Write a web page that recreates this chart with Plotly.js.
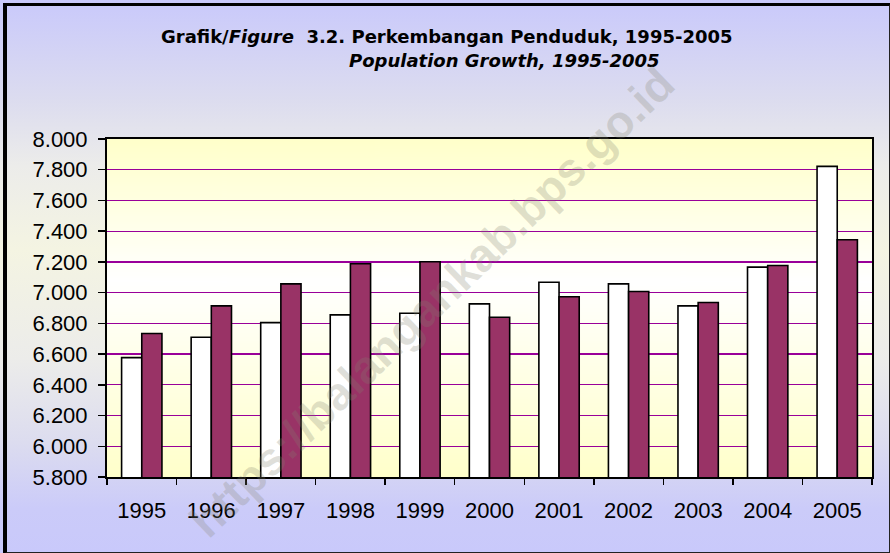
<!DOCTYPE html>
<html>
<head>
<meta charset="utf-8">
<script src="https://cdn.plot.ly/plotly-3.0.1.min.js"></script>
<style>
  html, body { margin: 0; padding: 0; }
  #wrap { position: relative; width: 890px; height: 553px; overflow: hidden;
    background: linear-gradient(to bottom, #c9c9fb 0%, #dcdcef 18%, #ececea 30%, #f4f4e2 45%, #ececea 65%, #dcdcef 80%, #cbcbf9 92%, #c9c9fb 100%); }
  #chart { position: absolute; left: 0; top: 0; width: 890px; height: 553px; }
  #frame { position: absolute; left: 3px; top: 3px; width: 882px; height: 546px;
    border-left: 4px solid #000; border-top: 3px solid #000; border-right: 2px solid #222; border-bottom: 2px solid #222;
    pointer-events: none; }
</style>
</head>
<body>
<div id="wrap"><div id="chart"></div><div id="frame"></div></div>
<script>
// ---- data ----
const years = ['1995','1996','1997','1998','1999','2000','2001','2002','2003','2004','2005'];
const seriesWhite = [6577, 6710, 6805, 6855, 6866, 6927, 7068, 7057, 6914, 7166, 7822];
const seriesMaroon = [6734, 6914, 7057, 7188, 7201, 6840, 6973, 7007, 6936, 7177, 7344];
const yTicks = [5800, 6000, 6200, 6400, 6600, 6800, 7000, 7200, 7400, 7600, 7800, 8000];
const titleLine1 = '<b>Grafik/<i>Figure</i>&nbsp; 3.2. Perkembangan Penduduk, 1995-2005</b>';
const titleLine2 = '<b><i>Population Growth, 1995-2005</i></b>';
const watermark = 'https://balangankab.bps.go.id';

// plot-area gradient (light yellow -> white -> light yellow)
function gradientImage() {
  const c = document.createElement('canvas');
  c.width = 10; c.height = 340;
  const ctx = c.getContext('2d');
  const g = ctx.createLinearGradient(0, 0, 0, 340);
  g.addColorStop(0, '#ffffca');
  g.addColorStop(0.42, '#ffffff');
  g.addColorStop(1, '#ffffca');
  ctx.fillStyle = g;
  ctx.fillRect(0, 0, 10, 340);
  return c.toDataURL('image/png');
}

const L = 107, R = 18, T = 139, B = 76, W = 890, H = 553;
const pw = W - L - R, ph = H - T - B;
const px = x => (x - L) / pw;
const py = y => (H - B - y) / ph;

const traces = [
  { type: 'bar', x: years, y: seriesWhite, name: 'A',
    marker: { color: '#ffffff', line: { color: '#000000', width: 1.6 } }, hoverinfo: 'x+y' },
  { type: 'bar', x: years, y: seriesMaroon, name: 'B',
    marker: { color: '#993366', line: { color: '#000000', width: 1.6 } }, hoverinfo: 'x+y' }
];

const layout = {
  width: W, height: H,
  margin: { l: L, r: R, t: T, b: B, pad: 0 },
  paper_bgcolor: 'rgba(0,0,0,0)',
  plot_bgcolor: 'rgba(0,0,0,0)',
  showlegend: false,
  barmode: 'group', bargap: 0.42, bargroupgap: 0,
  separators: ',.',
  font: { family: 'Liberation Sans, Arial, sans-serif', size: 22, color: '#000' },
  xaxis: {
    type: 'category', showline: true, linecolor: '#000', linewidth: 2, mirror: true,
    ticks: 'outside', tickson: 'boundaries', ticklen: 6, tickcolor: '#000', tickwidth: 1.5,
    ticklabelstandoff: 13, showgrid: false, zeroline: false,
    tickfont: { family: 'Liberation Sans, Arial, sans-serif', size: 22, color: '#000' }
  },
  yaxis: {
    range: [5800, 8000], tickvals: yTicks, tickformat: ',d',
    showline: true, linecolor: '#000', linewidth: 2, mirror: true,
    ticks: 'outside', ticklen: 7, tickcolor: '#000', tickwidth: 1.5, ticklabelstandoff: 6,
    showgrid: true, gridcolor: '#990099', gridwidth: 1.2, zeroline: false,
    tickfont: { family: 'Liberation Sans, Arial, sans-serif', size: 22, color: '#000' }
  },
  images: [{
    source: gradientImage(), xref: 'paper', yref: 'paper', x: 0, y: 1,
    sizex: 1, sizey: 1, sizing: 'stretch', xanchor: 'left', yanchor: 'top', layer: 'below'
  }],
  annotations: [
    { text: titleLine1, xref: 'paper', yref: 'paper', x: px(447), y: py(36),
      xanchor: 'center', yanchor: 'middle', showarrow: false,
      font: { family: 'DejaVu Sans, sans-serif', size: 18, color: '#000' } },
    { text: titleLine2, xref: 'paper', yref: 'paper', x: px(504), y: py(60),
      xanchor: 'center', yanchor: 'middle', showarrow: false,
      font: { family: 'DejaVu Sans, sans-serif', size: 18, color: '#000' } },
    { text: '<b>' + watermark + '</b>', xref: 'paper', yref: 'paper', x: px(432), y: py(302),
      xanchor: 'center', yanchor: 'middle', showarrow: false, textangle: -44,
      font: { family: 'Liberation Sans, Arial, sans-serif', size: 46, color: 'rgba(130,130,110,0.25)' } }
  ]
};

Plotly.newPlot('chart', traces, layout, { staticPlot: true, displayModeBar: false });
</script>
</body>
</html>
